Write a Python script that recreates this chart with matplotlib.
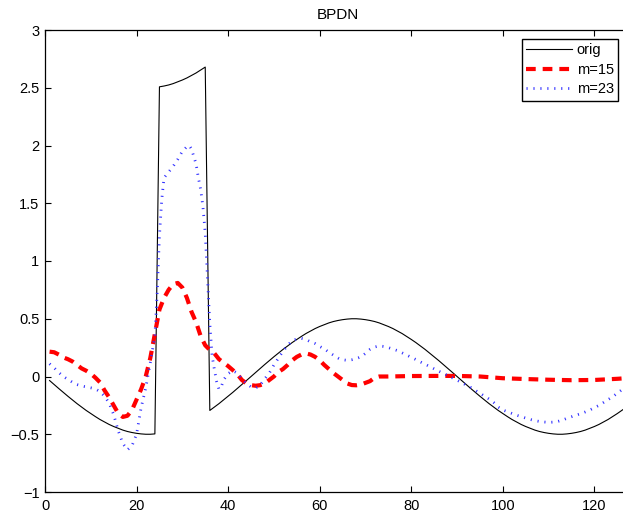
import matplotlib
matplotlib.use("Agg")
import matplotlib.pyplot as plt

plt.rcParams['font.family'] = ['Liberation Sans', 'DejaVu Sans']
plt.rcParams['lines.scale_dashes'] = False

title = "BPDN"
labels = ["orig", "m=15", "m=23"]
xticks = [0, 20, 40, 60, 80, 100, 120]
yticks = [-1, -0.5, 0, 0.5, 1, 1.5, 2, 2.5, 3]

orig_x = list(range(1, 129))
orig_y = [
    -0.035, -0.070, -0.104, -0.138, -0.171, -0.203, -0.235, -0.265, -0.294, -0.321,
    -0.347, -0.372, -0.394, -0.415, -0.433, -0.449, -0.464, -0.476, -0.485, -0.492,
    -0.497, -0.500, -0.500, -0.497, 2.508, 2.515, 2.524, 2.536, 2.551, 2.567,
    2.585, 2.606, 2.628, 2.653, 2.679, -0.294, -0.265, -0.235, -0.203, -0.171,
    -0.138, -0.104, -0.070, -0.035, 0.000, 0.035, 0.070, 0.104, 0.138, 0.171,
    0.203, 0.235, 0.265, 0.294, 0.321, 0.347, 0.372, 0.394, 0.415, 0.433,
    0.449, 0.464, 0.476, 0.485, 0.492, 0.497, 0.500, 0.500, 0.497, 0.492,
    0.485, 0.476, 0.464, 0.449, 0.433, 0.415, 0.394, 0.372, 0.347, 0.321,
    0.294, 0.265, 0.235, 0.203, 0.171, 0.138, 0.104, 0.070, 0.035, 0.000,
    -0.035, -0.070, -0.104, -0.138, -0.171, -0.203, -0.235, -0.265, -0.294, -0.321,
    -0.347, -0.372, -0.394, -0.415, -0.433, -0.449, -0.464, -0.476, -0.485, -0.492,
    -0.497, -0.500, -0.500, -0.497, -0.492, -0.485, -0.476, -0.464, -0.449, -0.433,
    -0.415, -0.394, -0.372, -0.347, -0.321, -0.294, -0.265, -0.235,
]

m15_x = list(range(1, 74)) + [75, 80, 85, 90, 95, 100, 105, 110, 115, 120, 125, 128]
m15_y = [
    0.215, 0.21, 0.19, 0.165, 0.15, 0.13, 0.10, 0.07, 0.05, 0.025,
    -0.01, -0.05, -0.12, -0.18, -0.25, -0.32, -0.35, -0.34, -0.29, -0.20,
    -0.11, 0.00, 0.16, 0.37, 0.58, 0.68, 0.75, 0.80, 0.81, 0.77,
    0.68, 0.56, 0.47, 0.35, 0.27, 0.23, 0.20, 0.15, 0.12, 0.09,
    0.056, 0.02, -0.03, -0.06, -0.075, -0.08, -0.075, -0.06, -0.03, 0.00,
    0.04, 0.065, 0.10, 0.14, 0.17, 0.19, 0.20, 0.19, 0.17, 0.14,
    0.10, 0.065, 0.03, 0.00, -0.03, -0.06, -0.074, -0.076, -0.07, -0.055,
    -0.04, -0.01, 0.0,
    0.0, 0.004, 0.005, 0.005, 0.0, -0.015, -0.022, -0.028, -0.032, -0.03, -0.02, -0.012,
]

m23_x = ([float(t) for t in range(1, 25)]
         + [24.5, 25, 25.5, 26, 27, 28, 29, 30, 31, 31.5, 32, 33, 33.5, 34, 34.5,
            35, 35.5, 36, 36.5, 37, 37.5, 38, 38.5]
         + [float(t) for t in range(39, 129)])
m23_y = [
    0.11, 0.075, 0.035, 0.0, -0.025, -0.05, -0.07, -0.082, -0.09, -0.098,
    -0.108, -0.13, -0.17, -0.23, -0.33, -0.47, -0.58, -0.635, -0.60, -0.50,
    -0.27, -0.10, 0.12, 0.35,
    0.72, 1.22, 1.53, 1.72, 1.77, 1.82, 1.88, 1.95, 1.99, 2.0, 1.97, 1.84, 1.72, 1.62, 1.47,
    1.24, 0.85, 0.46, 0.18, 0.06, -0.045, -0.11, -0.09,
    -0.03, 0.025, 0.05, 0.03, -0.02, -0.06, -0.09, -0.10, -0.075, -0.02,
    0.03, 0.10, 0.16, 0.22, 0.27, 0.31, 0.325, 0.33, 0.32, 0.30,
    0.285, 0.26, 0.24, 0.21, 0.185, 0.16, 0.145, 0.14, 0.145, 0.155,
    0.17, 0.20, 0.235, 0.255, 0.265, 0.26, 0.25, 0.237, 0.224, 0.205,
    0.186, 0.167, 0.147, 0.126, 0.107, 0.087, 0.066, 0.046, 0.027, 0.007,
    -0.012, -0.032, -0.052, -0.075, -0.095, -0.12, -0.145, -0.17, -0.195, -0.225,
    -0.265, -0.29, -0.305, -0.32, -0.335, -0.348, -0.36, -0.372, -0.382, -0.389,
    -0.394, -0.397, -0.395, -0.389, -0.378, -0.362, -0.348, -0.335, -0.322, -0.307,
    -0.29, -0.27, -0.25, -0.225, -0.2, -0.175, -0.145, -0.115, -0.085, -0.055,
]

fig = plt.figure(figsize=(6.23, 5.15), dpi=100)
W, H = 623, 515
ax = fig.add_axes([45 / W, (H - 492) / H, 586 / W, 462 / H])

ax.plot(orig_x, orig_y, color='black', linewidth=0.8, label=labels[0])
ax.plot(m15_x, m15_y, color='#ff0000', linewidth=3.0, dashes=(7, 5),
        dash_capstyle='butt', label=labels[1])
ax.plot(m23_x, m23_y, color='#3333ff', linewidth=2.0, dashes=(0.8, 4.2),
        dash_capstyle='butt', label=labels[2])

ax.set_xlim(0, 128)
ax.set_ylim(-1, 3)
ax.set_xticks(xticks)
ax.set_yticks(yticks)
ax.set_yticklabels([f"{v:g}".replace('-', '\u2212') for v in yticks])
ax.tick_params(direction='in', length=4, width=0.8, top=True, right=True,
               labelsize=10.5, colors='black')
ax.tick_params(axis='x', pad=5)
ax.tick_params(axis='y', pad=4)
for s in ax.spines.values():
    s.set_linewidth(0.9)

ax.set_title(title, fontsize=11, pad=8)

leg = ax.legend(loc='upper right', bbox_to_anchor=(0.978, 0.9805), borderaxespad=0,
                fontsize=10.5, handlelength=3.1, handletextpad=0.35,
                borderpad=0.3, labelspacing=0.38, fancybox=False, framealpha=1)
leg.get_frame().set_edgecolor('black')
leg.get_frame().set_linewidth(1.0)

fig.savefig("out.png", dpi=100)
